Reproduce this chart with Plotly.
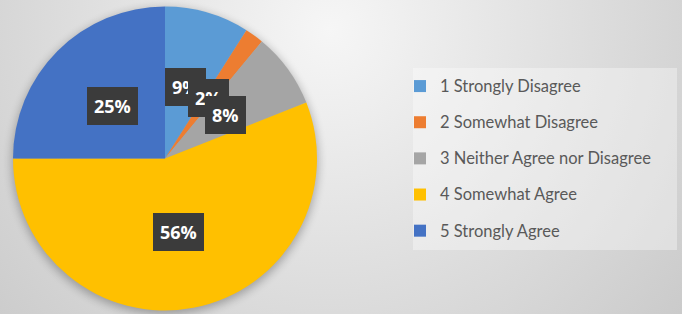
import base64
import math
import plotly.graph_objects as go

# ---- data ----
categories = ["1 Strongly Disagree", "2 Somewhat Disagree", "3 Neither Agree nor Disagree",
              "4 Somewhat Agree", "5 Strongly Agree"]
percent_values = [9, 2, 8, 56, 25]
slice_colors = ["#5B9BD5", "#ED7D31", "#A5A5A5", "#FFC000", "#4472C4"]

# ---- layout constants (pixels) ----
W, H = 682, 314
PIE_CX, PIE_CY, PIE_R = 165, 158.5, 152   # centre measured from the top
LABEL_RADIUS_FRAC = 0.49
LEG_BOX = (413, 68, 677, 250)              # legend frame: left, top, right, bottom

dom_x = [(PIE_CX - PIE_R) / W, (PIE_CX + PIE_R) / W]
dom_y = [(H - PIE_CY - PIE_R) / H, (H - PIE_CY + PIE_R) / H]

# background: soft radial gradient + pie drop shadow
svg = f"""<svg xmlns='http://www.w3.org/2000/svg' width='{W}' height='{H}' viewBox='0 0 {W} {H}'>
<defs>
<radialGradient id='g' cx='330' cy='30' r='450' gradientUnits='userSpaceOnUse'>
<stop offset='0' stop-color='#f6f6f6'/><stop offset='1' stop-color='#cbcbcb'/></radialGradient>
<filter id='b' x='-20%' y='-20%' width='140%' height='140%'><feGaussianBlur stdDeviation='5'/></filter>
</defs>
<rect width='{W}' height='{H}' fill='url(#g)'/>
<circle cx='{PIE_CX}' cy='{PIE_CY + 3}' r='{PIE_R + 1}' fill='#000' opacity='0.28' filter='url(#b)'/>
</svg>"""
bg_uri = "data:image/svg+xml;base64," + base64.b64encode(svg.encode()).decode()

legend_labels = [f"<span style='font-size:16.5px;baseline-shift:4px'>{c}</span>" for c in categories]

fig = go.Figure(go.Pie(
    labels=legend_labels,
    values=percent_values,
    sort=False,
    direction="clockwise",
    rotation=0,
    marker=dict(colors=slice_colors, line=dict(width=0)),
    textinfo="none",
    hoverinfo="label+percent",
    domain=dict(x=dom_x, y=dom_y),
))

# data labels placed along each slice's mid-angle
total = sum(percent_values)
cum = 0
annotations = []
for v in percent_values:
    mid = (cum + v / 2) / total * 2 * math.pi
    cum += v
    r = PIE_R * LABEL_RADIUS_FRAC
    px = PIE_CX + r * math.sin(mid)
    py = PIE_CY - r * math.cos(mid)
    annotations.append(dict(
        x=px / W, y=1 - py / H, xref="paper", yref="paper",
        text=f"<b>{round(v / total * 100)}%</b>", showarrow=False,
        font=dict(family="Open Sans", size=18, color="white"),
        bgcolor="#3b3b3b", borderpad=7, borderwidth=0,
        xanchor="center", yanchor="middle",
    ))

fig.update_layout(
    width=W, height=H,
    margin=dict(l=0, r=0, t=0, b=0),
    paper_bgcolor="#e2e2e2",
    plot_bgcolor="rgba(0,0,0,0)",
    images=[dict(source=bg_uri, xref="paper", yref="paper", x=0, y=1, sizex=1, sizey=1,
                 xanchor="left", yanchor="top", sizing="stretch", layer="below")],
    shapes=[dict(type="rect", xref="paper", yref="paper",
                 x0=LEG_BOX[0] / W, x1=LEG_BOX[2] / W,
                 y0=1 - LEG_BOX[3] / H, y1=1 - LEG_BOX[1] / H,
                 fillcolor="rgba(255,255,255,0.35)", line=dict(width=0), layer="below")],
    annotations=annotations,
    showlegend=True,
    legend=dict(
        x=400 / W, y=1 - 63 / H, xanchor="left", yanchor="top",
        bgcolor="rgba(0,0,0,0)", borderwidth=0,
        font=dict(family="Lato", size=25.5, color="#595959"),
    ),
)

fig.write_html("out.html", config={"displayModeBar": False},
               post_script="document.body.style.margin='0px';")
